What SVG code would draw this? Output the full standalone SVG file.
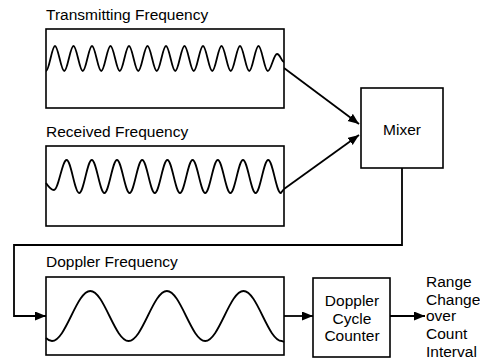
<svg xmlns="http://www.w3.org/2000/svg" width="480" height="363" viewBox="0 0 480 363">
<defs>
<marker id="arr" markerUnits="userSpaceOnUse" markerWidth="12" markerHeight="10" refX="11" refY="4.5" orient="auto">
<path d="M0,0 L11,4.5 L0,9 Z" fill="#000"/>
</marker>
</defs>
<style>
.box{fill:#fff;stroke:#000;stroke-width:1.6}
.wave{fill:none;stroke:#000;stroke-width:1.8}
.conn{fill:none;stroke:#000;stroke-width:1.8}
text{font-family:"Liberation Sans",Arial,sans-serif;font-size:15.5px;fill:#000}
.mid{text-anchor:middle}
</style>
<rect width="480" height="363" fill="#fff"/>
<g id="connectors">
<line class="conn" x1="284" y1="68" x2="359" y2="124" marker-end="url(#arr)"/>
<line class="conn" x1="284" y1="189" x2="359" y2="135" marker-end="url(#arr)"/>
<polyline class="conn" points="402,168 402,245 14,245 14,316 46,316" marker-end="url(#arr)"/>
<line class="conn" x1="284" y1="316" x2="313" y2="316" marker-end="url(#arr)"/>
<line class="conn" x1="390" y1="316" x2="425" y2="316" marker-end="url(#arr)"/>
</g>
<g id="transmitting">
<text x="46" y="20">Transmitting Frequency</text>
<rect class="box" x="46" y="29" width="238" height="79"/>
<path class="wave" d="M46,71 C49.2,71 51.8,46 55,46 s5.92,25 9.25,25 s5.92,-25 9.25,-25 s5.92,25 9.25,25 s5.92,-25 9.25,-25 s5.92,25 9.25,25 s5.92,-25 9.25,-25 s5.92,25 9.25,25 s5.92,-25 9.25,-25 s5.92,25 9.25,25 s5.92,-25 9.25,-25 s5.92,25 9.25,25 s5.92,-25 9.25,-25 s5.92,25 9.25,25 s5.92,-25 9.25,-25 s5.92,25 9.25,25 s5.92,-25 9.25,-25 s5.92,25 9.25,25 s5.92,-25 9.25,-25 s5.92,25 9.25,25 s5.92,-25 9.25,-25 s5.92,25 9.25,25 s5.92,-25 9.25,-25 s5.92,25 9.25,25 s5.92,-17 9.25,-17 s4.5,8 7,8"/>
</g>
<g id="received">
<text x="46" y="137">Received Frequency</text>
<rect class="box" x="46" y="146" width="238" height="80"/>
<path class="wave" d="M46,183 C48,186 51,190 54,190 c4.5,0 8.1,-30 12.6,-30 s8.06,33 12.6,33 s8.06,-33 12.6,-33 s8.06,33 12.6,33 s8.06,-33 12.6,-33 s8.06,33 12.6,33 s8.06,-33 12.6,-33 s8.06,33 12.6,33 s8.06,-33 12.6,-33 s8.06,33 12.6,33 s8.06,-33 12.6,-33 s8.06,33 12.6,33 s8.06,-33 12.6,-33 s8.06,33 12.6,33 s8.06,-33 12.6,-33 s8.06,33 12.6,33 s8.06,-33 12.6,-33 s8.06,33 12.6,33 l3.2,-4"/>
</g>
<g id="mixer">
<rect class="box" x="361" y="88" width="82" height="80"/>
<text class="mid" x="402" y="135">Mixer</text>
</g>
<g id="doppler">
<text x="46" y="267">Doppler Frequency</text>
<rect class="box" x="46" y="277" width="238" height="78"/>
<path class="wave" d="M46,338 C48,340 50,341 52,341 c13.8,0 24.5,-50 38.3,-50 s24.5,50 38.3,50 s24.5,-50 38.3,-50 s24.5,50 38.3,50 s24.5,-50 38.3,-50 s24.5,50 38.3,50 l2.2,1"/>
</g>
<g id="counter">
<rect class="box" x="313" y="278" width="77" height="79"/>
<text class="mid" x="352" y="306">Doppler</text>
<text class="mid" x="352" y="323.5">Cycle</text>
<text class="mid" x="352" y="341">Counter</text>
</g>
<g id="output">
<text x="426" y="287">Range</text>
<text x="426" y="304.5">Change</text>
<text x="426" y="321">over</text>
<text x="426" y="339">Count</text>
<text x="426" y="356.5">Interval</text>
</g>
</svg>
